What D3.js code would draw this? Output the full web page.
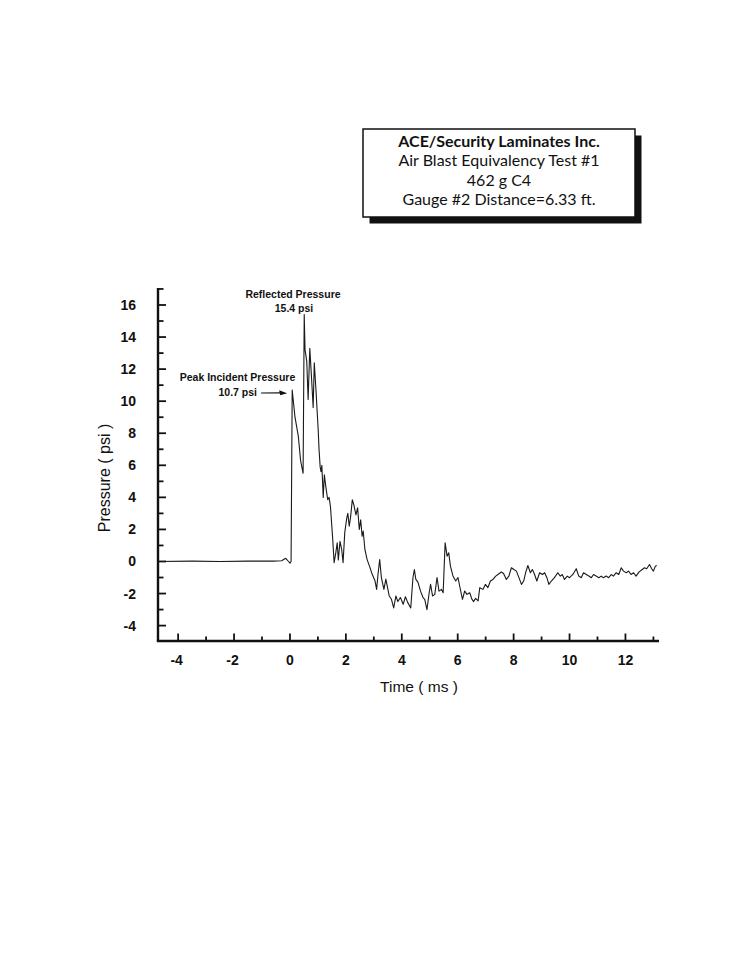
<!DOCTYPE html>
<html>
<head>
<meta charset="utf-8">
<script src="https://cdn.jsdelivr.net/npm/d3@7/dist/d3.min.js"></script>
<style>
  html, body { margin: 0; padding: 0; background: #fff; }
  svg { display: block; }
</style>
</head>
<body>
<svg id="chart" width="750" height="970"></svg>
<script>
// ---------------- DATA ----------------
const titleLines = ["ACE/Security Laminates Inc.", "Air Blast Equivalency Test #1", "462 g C4", "Gauge #2 Distance=6.33 ft."];
const xTickLabels = [-4, -2, 0, 2, 4, 6, 8, 10, 12];
const yTickLabels = [-4, -2, 0, 2, 4, 6, 8, 10, 12, 14, 16];
const xLabel = "Time ( ms )";
const yLabel = "Pressure ( psi )";
const annReflected = ["Reflected Pressure", "15.4 psi"];
const annIncident = ["Peak Incident Pressure", "10.7 psi"];

// time (ms)
const timeMs = [
  -4.70, -3.50, -2.50, -1.50, -0.60, -0.30, -0.15, -0.05, 0.00, 0.04,
  0.08, 0.18, 0.30, 0.38, 0.47, 0.51, 0.54, 0.60, 0.65, 0.71,
  0.77, 0.83, 0.87, 0.93, 1.01, 1.04, 1.08, 1.11, 1.14, 1.19,
  1.23, 1.28, 1.35, 1.40, 1.45, 1.53, 1.58, 1.64, 1.69, 1.73,
  1.79, 1.85, 1.90, 1.96, 2.03, 2.07, 2.12, 2.17, 2.23, 2.29,
  2.36, 2.42, 2.48, 2.53, 2.58, 2.62, 2.68, 2.76, 2.86, 2.92,
  3.04, 3.10, 3.15, 3.21, 3.27, 3.36, 3.43, 3.55, 3.63, 3.71,
  3.79, 3.86, 3.95, 4.05, 4.13, 4.21, 4.32, 4.40, 4.45, 4.50,
  4.58, 4.67, 4.76, 4.82, 4.90, 4.98, 5.03, 5.10, 5.18, 5.26,
  5.33, 5.42, 5.48, 5.55, 5.62, 5.68, 5.74, 5.83, 5.93, 6.01,
  6.07, 6.17, 6.25, 6.33, 6.43, 6.51, 6.57, 6.64, 6.73, 6.79,
  6.90, 6.99, 7.08, 7.17, 7.26, 7.36, 7.44, 7.56, 7.64, 7.74,
  7.83, 7.92, 8.01, 8.10, 8.19, 8.28, 8.36, 8.43, 8.51, 8.60,
  8.67, 8.75, 8.83, 8.93, 9.03, 9.11, 9.19, 9.26, 9.35, 9.46,
  9.58, 9.67, 9.74, 9.82, 9.92, 10.00, 10.12, 10.24, 10.33, 10.42,
  10.50, 10.60, 10.69, 10.78, 10.86, 10.95, 11.05, 11.13, 11.21, 11.31,
  11.40, 11.49, 11.57, 11.67, 11.76, 11.85, 11.93, 12.03, 12.11, 12.20,
  12.29, 12.38, 12.48, 12.60, 12.68, 12.76, 12.86, 12.94, 13.00, 13.07,
  13.12
];
// pressure (psi)
const pressurePsi = [
  0.00, 0.02, 0.00, 0.02, 0.02, 0.05, 0.20, 0.00, -0.10, 0.00,
  10.70, 9.00, 7.80, 6.30, 5.50, 15.40, 13.20, 12.50, 10.10, 13.30,
  11.50, 9.60, 12.40, 10.70, 8.20, 7.00, 5.90, 5.60, 6.00, 4.00,
  5.40, 4.70, 3.85, 4.00, 3.40, 1.37, -0.07, 0.55, 1.17, 0.10,
  1.26, 0.75, -0.07, 1.80, 2.70, 3.00, 2.20, 2.80, 3.85, 3.50,
  2.90, 3.35, 2.00, 2.60, 1.57, 1.90, 0.75, 0.12, -0.37, -0.70,
  -1.20, -1.74, -0.80, 0.12, -1.00, -1.74, -1.10, -2.15, -2.36, -2.90,
  -2.15, -2.50, -2.25, -2.67, -2.20, -2.55, -2.90, -1.00, -0.50, -1.10,
  -1.30, -1.85, -2.25, -2.36, -3.00, -1.95, -1.43, -2.15, -2.05, -1.00,
  -1.85, -1.74, -1.95, 1.16, 0.33, 0.54, -0.29, -0.90, -1.22, -1.00,
  -1.53, -2.36, -1.84, -2.05, -1.95, -2.36, -2.50, -2.30, -2.46, -1.63,
  -1.74, -1.43, -1.63, -1.22, -1.12, -0.91, -0.81, -0.66, -0.75, -1.12,
  -0.91, -0.39, -0.50, -0.60, -1.01, -1.43, -1.22, -0.70, -0.25, -0.70,
  -0.50, -0.81, -1.22, -0.70, -0.81, -0.70, -1.01, -1.43, -1.22, -1.01,
  -0.70, -0.91, -0.81, -1.12, -0.91, -1.01, -0.81, -0.45, -0.91, -1.01,
  -0.70, -0.81, -0.91, -1.01, -0.81, -0.91, -1.01, -0.91, -1.01, -0.91,
  -1.01, -0.81, -0.91, -0.70, -0.81, -0.39, -0.60, -0.70, -0.60, -0.81,
  -0.70, -0.91, -0.66, -0.50, -0.39, -0.45, -0.19, -0.45, -0.60, -0.29,
  -0.25
];

// ---------------- DRAW ----------------
const svg = d3.select("#chart");
const sansFont = "'Liberation Sans', Arial, sans-serif";

// scales
const x = d3.scaleLinear().domain([-4.72, 13.2]).range([158, 659]);
const y = d3.scaleLinear().domain([-4.96, 17.06]).range([641, 288]);

// --- title box ---
const box = { x: 363, y: 129, w: 272, h: 88, sh: 6.5 };
svg.append("rect")
  .attr("x", box.x + box.sh).attr("y", box.y + box.sh)
  .attr("width", box.w).attr("height", box.h)
  .attr("fill", "#111");
svg.append("rect")
  .attr("x", box.x).attr("y", box.y)
  .attr("width", box.w).attr("height", box.h)
  .attr("fill", "#fff").attr("stroke", "#111").attr("stroke-width", 1.5);
const titleFont = "Lato, 'Noto Sans', sans-serif";
titleLines.forEach((t, i) => {
  svg.append("text")
    .attr("x", box.x + box.w / 2)
    .attr("y", 147 + i * 19.3)
    .attr("text-anchor", "middle")
    .attr("font-family", titleFont)
    .attr("font-size", 16)
    .attr("font-weight", i === 0 ? 700 : 400)
    .attr("fill", "#111")
    .text(t);
});

// --- axes ---
const axisG = svg.append("g").attr("stroke", "#111").attr("fill", "none");
axisG.append("line")
  .attr("x1", x.range()[0]).attr("x2", x.range()[0])
  .attr("y1", y.range()[1]).attr("y2", y.range()[0])
  .attr("stroke-width", 2.4);
axisG.append("line")
  .attr("x1", x.range()[0] - 1.2).attr("x2", x.range()[1])
  .attr("y1", y.range()[0]).attr("y2", y.range()[0])
  .attr("stroke-width", 2.4);

const xTicks = d3.range(-4, 14, 1);
axisG.selectAll(".xt").data(xTicks).join("line")
  .attr("x1", d => x(d)).attr("x2", d => x(d))
  .attr("y1", y.range()[0])
  .attr("y2", d => y.range()[0] - (d % 2 === 0 ? 7.5 : 4.5))
  .attr("stroke-width", 1.8);

const yTicks = d3.range(-4, 18, 1);
axisG.selectAll(".yt").data(yTicks).join("line")
  .attr("y1", d => y(d)).attr("y2", d => y(d))
  .attr("x1", x.range()[0])
  .attr("x2", d => x.range()[0] + (d % 2 === 0 ? 8 : 5.5))
  .attr("stroke-width", 1.8);

svg.selectAll(".xl").data(xTickLabels).join("text")
  .attr("x", d => x(d) - (d < 0 ? 1.5 : 0))
  .attr("y", 665)
  .attr("text-anchor", "middle")
  .attr("font-family", sansFont)
  .attr("font-weight", 700)
  .attr("font-size", 14)
  .attr("fill", "#111")
  .text(d => d);

svg.selectAll(".yl").data(yTickLabels).join("text")
  .attr("x", 136)
  .attr("y", d => y(d) + 5)
  .attr("text-anchor", "end")
  .attr("font-family", sansFont)
  .attr("font-weight", 700)
  .attr("font-size", 14)
  .attr("fill", "#111")
  .text(d => d);

svg.append("text")
  .attr("x", 419).attr("y", 692)
  .attr("text-anchor", "middle")
  .attr("font-family", sansFont)
  .attr("font-size", 15.5)
  .attr("fill", "#111")
  .text(xLabel);

svg.append("text")
  .attr("transform", "translate(110,478) rotate(-90)")
  .attr("text-anchor", "middle")
  .attr("font-family", sansFont)
  .attr("font-size", 16)
  .attr("fill", "#111")
  .text(yLabel);

// --- data line ---
const pts = timeMs.map((t, i) => [t, pressurePsi[i]]);
const line = d3.line().x(d => x(d[0])).y(d => y(d[1]));
svg.append("path")
  .datum(pts)
  .attr("d", line)
  .attr("fill", "none")
  .attr("stroke", "#1a1a1a")
  .attr("stroke-width", 1.1)
  .attr("stroke-linejoin", "round");

// --- annotations ---
const annG = svg.append("g")
  .attr("font-family", sansFont)
  .attr("font-weight", 700)
  .attr("font-size", 10.5)
  .attr("fill", "#111");
annG.append("text").attr("x", 293).attr("y", 298).attr("text-anchor", "middle").text(annReflected[0]);
annG.append("text").attr("x", 294).attr("y", 312).attr("text-anchor", "middle").text(annReflected[1]);
annG.append("text").attr("x", 237.5).attr("y", 381).attr("text-anchor", "middle").text(annIncident[0]);
annG.append("text").attr("x", 257).attr("y", 396).attr("text-anchor", "end").text(annIncident[1]);

const tipX = x(-0.1), tipY = y(10.5);
svg.append("line")
  .attr("x1", 261).attr("y1", 393)
  .attr("x2", tipX - 6).attr("y2", tipY - 0.3)
  .attr("stroke", "#111").attr("stroke-width", 1.2);
svg.append("path")
  .attr("d", `M${tipX},${tipY} L${tipX - 8},${tipY - 3} L${tipX - 7},${tipY + 2} Z`)
  .attr("fill", "#111");
</script>
</body>
</html>
